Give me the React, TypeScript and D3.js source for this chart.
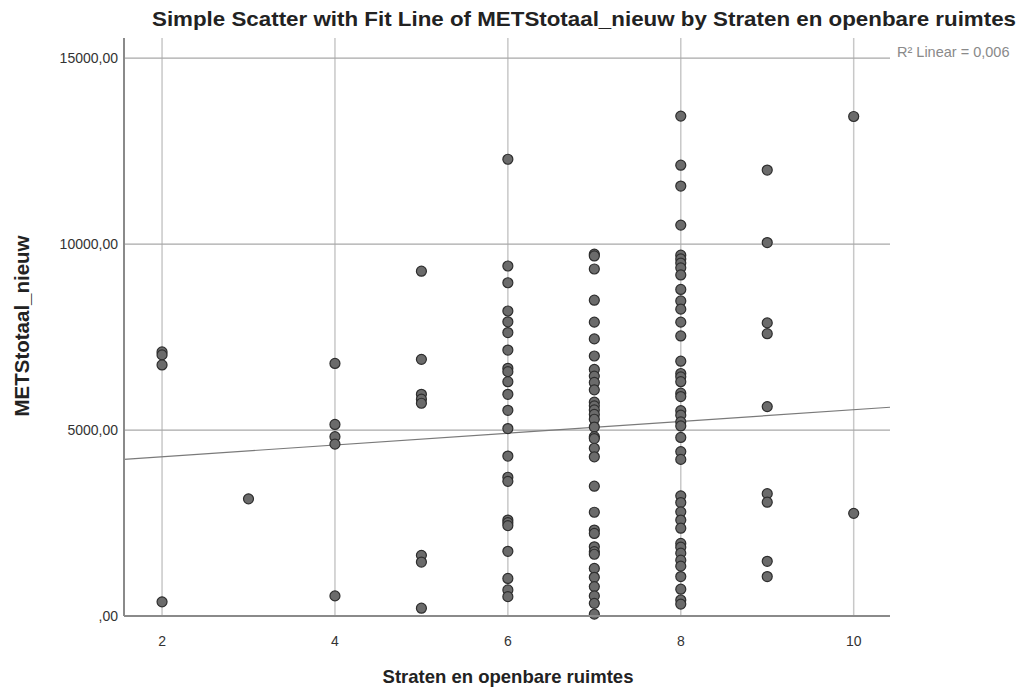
import React from "react";
import * as d3 from "d3";

const WIDTH = 1031;
const HEIGHT = 691;

const titleText = "Simple Scatter with Fit Line of METStotaal_nieuw by Straten en openbare ruimtes";
const xAxisTitle = "Straten en openbare ruimtes";
const yAxisTitle = "METStotaal_nieuw";
const fitLabel = "R² Linear = 0,006";

const xTicks = [2, 4, 6, 8, 10];
const xTickLabels = ["2", "4", "6", "8", "10"];
const yTicks = [0, 5000, 10000, 15000];
const yTickLabels = [",00", "5000,00", "10000,00", "15000,00"];

// METStotaal_nieuw values per category of "Straten en openbare ruimtes"
const valuesAt2 = [7100, 7020, 6750, 380];
const valuesAt3 = [3150];
const valuesAt4 = [6790, 5150, 4820, 4620, 540];
const valuesAt5 = [9270, 6900, 5960, 5830, 5720, 1630, 1450, 210];
const valuesAt6 = [12280, 9410, 8960, 8200, 7910, 7620, 7150, 6660, 6570, 6300, 5960, 5530, 5040, 4300, 3730, 3620, 2580, 2510, 2430, 1740, 1010, 700, 520];
const valuesAt7 = [9730, 9680, 9330, 8490, 7900, 7450, 6990, 6630, 6450, 6280, 6080, 5750, 5650, 5540, 5420, 5290, 5080, 4820, 4770, 4510, 4280, 3490, 2790, 2310, 2220, 1860, 1730, 1660, 1280, 1040, 790, 540, 340, 50];
const valuesAt8 = [13440, 12120, 11560, 10510, 9700, 9600, 9490, 9360, 9170, 8780, 8470, 8250, 7900, 7530, 6850, 6520, 6430, 6300, 5990, 5900, 5520, 5400, 5220, 5110, 4800, 4420, 4210, 3230, 3050, 2800, 2580, 2360, 1950, 1850, 1690, 1500, 1340, 1060, 720, 430, 320];
const valuesAt9 = [11990, 10040, 7880, 7590, 5630, 3290, 3060, 1470, 1060];
const valuesAt10 = [13430, 2760];

const groups: [number, number[]][] = [
  [2, valuesAt2],
  [3, valuesAt3],
  [4, valuesAt4],
  [5, valuesAt5],
  [6, valuesAt6],
  [7, valuesAt7],
  [8, valuesAt8],
  [9, valuesAt9],
  [10, valuesAt10],
];

const fitIntercept = 3966;
const fitSlope = 158;

const xDomain = [1.56, 10.42];
const yDomain = [0, 15540];

export default function App() {
  const left = 124;
  const right = 890;
  const top = 38;
  const bottom = 616;

  const x = d3.scaleLinear().domain(xDomain).range([left, right]);
  const y = d3.scaleLinear().domain(yDomain).range([bottom, top]);

  const points = groups.flatMap(([cx, vals]) => vals.map((v) => ({ cx, v })));

  const fitLine = d3
    .line<number>()
    .x((d) => x(d))
    .y((d) => y(fitIntercept + fitSlope * d));

  const font = "'Liberation Sans', Arial, sans-serif";

  return (
    <svg
      width={WIDTH}
      height={HEIGHT}
      style={{ position: "absolute", left: 0, top: 0, background: "#fff" }}
      fontFamily={font}
    >
      <rect x={0} y={0} width={WIDTH} height={HEIGHT} fill="#fff" />
      {/* vertical grid */}
      {xTicks.map((t) => (
        <line key={"vg" + t} x1={x(t)} x2={x(t)} y1={top} y2={bottom} stroke="#c8c8c8" strokeWidth={1.5} />
      ))}
      {/* horizontal grid */}
      {yTicks.filter((t) => t > 0).map((t) => (
        <line key={"hg" + t} x1={left} x2={right} y1={y(t)} y2={y(t)} stroke="#a8a8a8" strokeWidth={1.2} />
      ))}
      {/* fit line */}
      <path d={fitLine(xDomain) || ""} stroke="#7a7a7a" strokeWidth={1.2} fill="none" />
      {/* points */}
      {points.map((p, i) => (
        <circle key={i} cx={x(p.cx)} cy={y(p.v)} r={5} fill="#6b6b6b" stroke="#2e2e2e" strokeWidth={1.2} />
      ))}
      {/* axes */}
      <line x1={left} x2={left} y1={top} y2={bottom} stroke="#8a8a8a" strokeWidth={2} />
      <line x1={left} x2={right} y1={bottom} y2={bottom} stroke="#8a8a8a" strokeWidth={2} />
      {/* y tick labels */}
      {yTicks.map((t, i) => (
        <text key={"yl" + t} x={118} y={y(t)} dy="0.35em" textAnchor="end" fontSize={14} fill="#333">
          {yTickLabels[i]}
        </text>
      ))}
      {/* x tick labels */}
      {xTicks.map((t, i) => (
        <text key={"xl" + t} x={x(t)} y={646} textAnchor="middle" fontSize={14} fill="#333">
          {xTickLabels[i]}
        </text>
      ))}
      {/* R² label */}
      <text x={897} y={y(15000)} dy="-0.05em" fontSize={14.5} fill="#8a8a8a">
        {fitLabel}
      </text>
      {/* title */}
      <text
        x={584}
        y={26}
        textAnchor="middle"
        fontSize={21}
        fontWeight="bold"
        fill="#222"
        textLength={864}
        lengthAdjust="spacingAndGlyphs"
      >
        {titleText}
      </text>
      {/* axis titles */}
      <text x={508} y={683} textAnchor="middle" fontSize={18.5} fontWeight="bold" fill="#222">
        {xAxisTitle}
      </text>
      <text
        transform={`translate(29, ${326}) rotate(-90)`}
        textAnchor="middle"
        fontSize={20.5}
        fontWeight="bold"
        fill="#222"
      >
        {yAxisTitle}
      </text>
    </svg>
  );
}
